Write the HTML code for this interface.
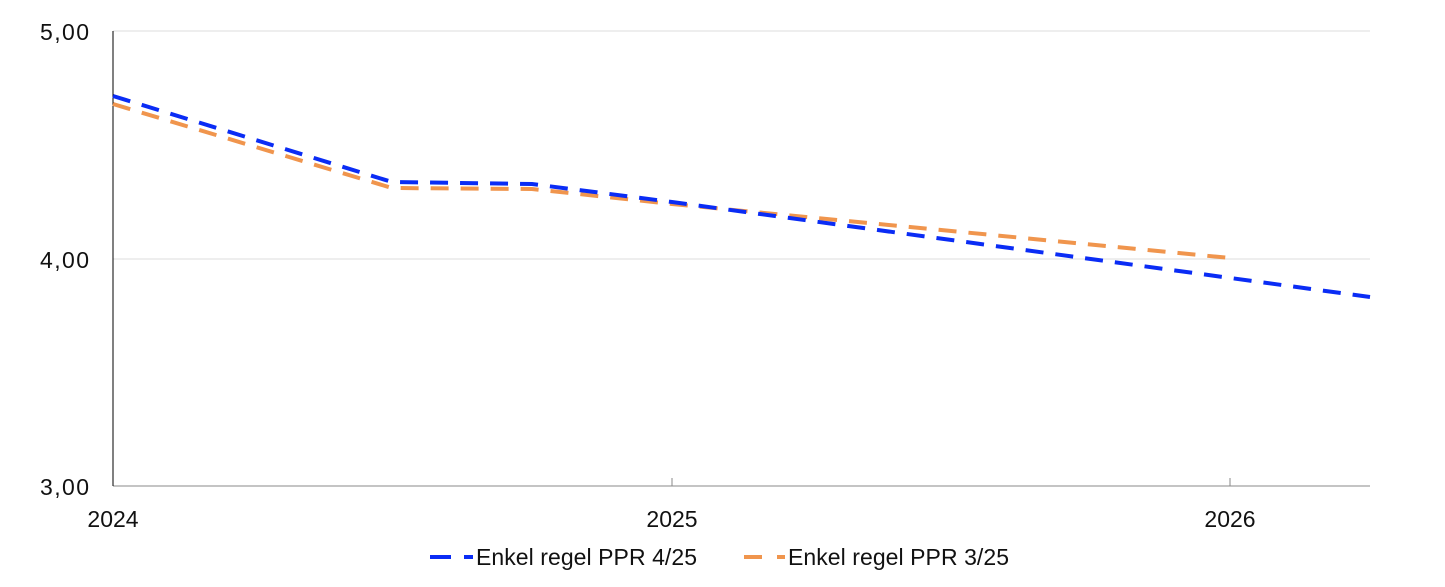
<!DOCTYPE html>
<html><head><style>body{margin:0;background:#fff}svg text{font-family:"Liberation Sans",sans-serif;fill:#111}</style></head>
<body>
<svg width="1445" height="582" xmlns="http://www.w3.org/2000/svg">
<line x1="113" y1="31" x2="1370" y2="31" stroke="#dcdcdc" stroke-width="1"/>
<line x1="113" y1="259" x2="1370" y2="259" stroke="#dcdcdc" stroke-width="1"/>
<line x1="113" y1="486" x2="1370" y2="486" stroke="#888" stroke-width="1"/>
<line x1="113" y1="31" x2="113" y2="486" stroke="#000" stroke-width="1"/>
<line x1="672" y1="478" x2="672" y2="486" stroke="#888"/>
<line x1="1230" y1="478" x2="1230" y2="486" stroke="#888"/>
<g font-size="23" text-anchor="end">
<text x="89" y="40" textLength="49">5,00</text><text x="89" y="268" textLength="49">4,00</text><text x="89" y="495" textLength="49">3,00</text></g>
<g font-size="23" text-anchor="middle">
<text x="113" y="527">2024</text><text x="672" y="527">2025</text><text x="1230" y="527">2026</text></g>
<polyline fill="none" stroke="#f0954d" stroke-width="4" stroke-dasharray="18 12" points="113,104 392,188 532,189 672,204 1230,258"/>
<polyline fill="none" stroke="#0a2cf5" stroke-width="4" stroke-dasharray="18 12" points="113,96 392,182 532,184 672,202 1370,297"/>
<line x1="430" y1="557" x2="451" y2="557" stroke="#0a2cf5" stroke-width="4"/>
<line x1="464" y1="557" x2="473" y2="557" stroke="#0a2cf5" stroke-width="4"/>
<text x="476" y="565" font-size="23" textLength="221">Enkel regel PPR 4/25</text>
<line x1="744" y1="557" x2="762" y2="557" stroke="#f0954d" stroke-width="4"/>
<line x1="777" y1="557" x2="785" y2="557" stroke="#f0954d" stroke-width="4"/>
<text x="788" y="565" font-size="23" textLength="221">Enkel regel PPR 3/25</text>
</svg>
</body></html>
